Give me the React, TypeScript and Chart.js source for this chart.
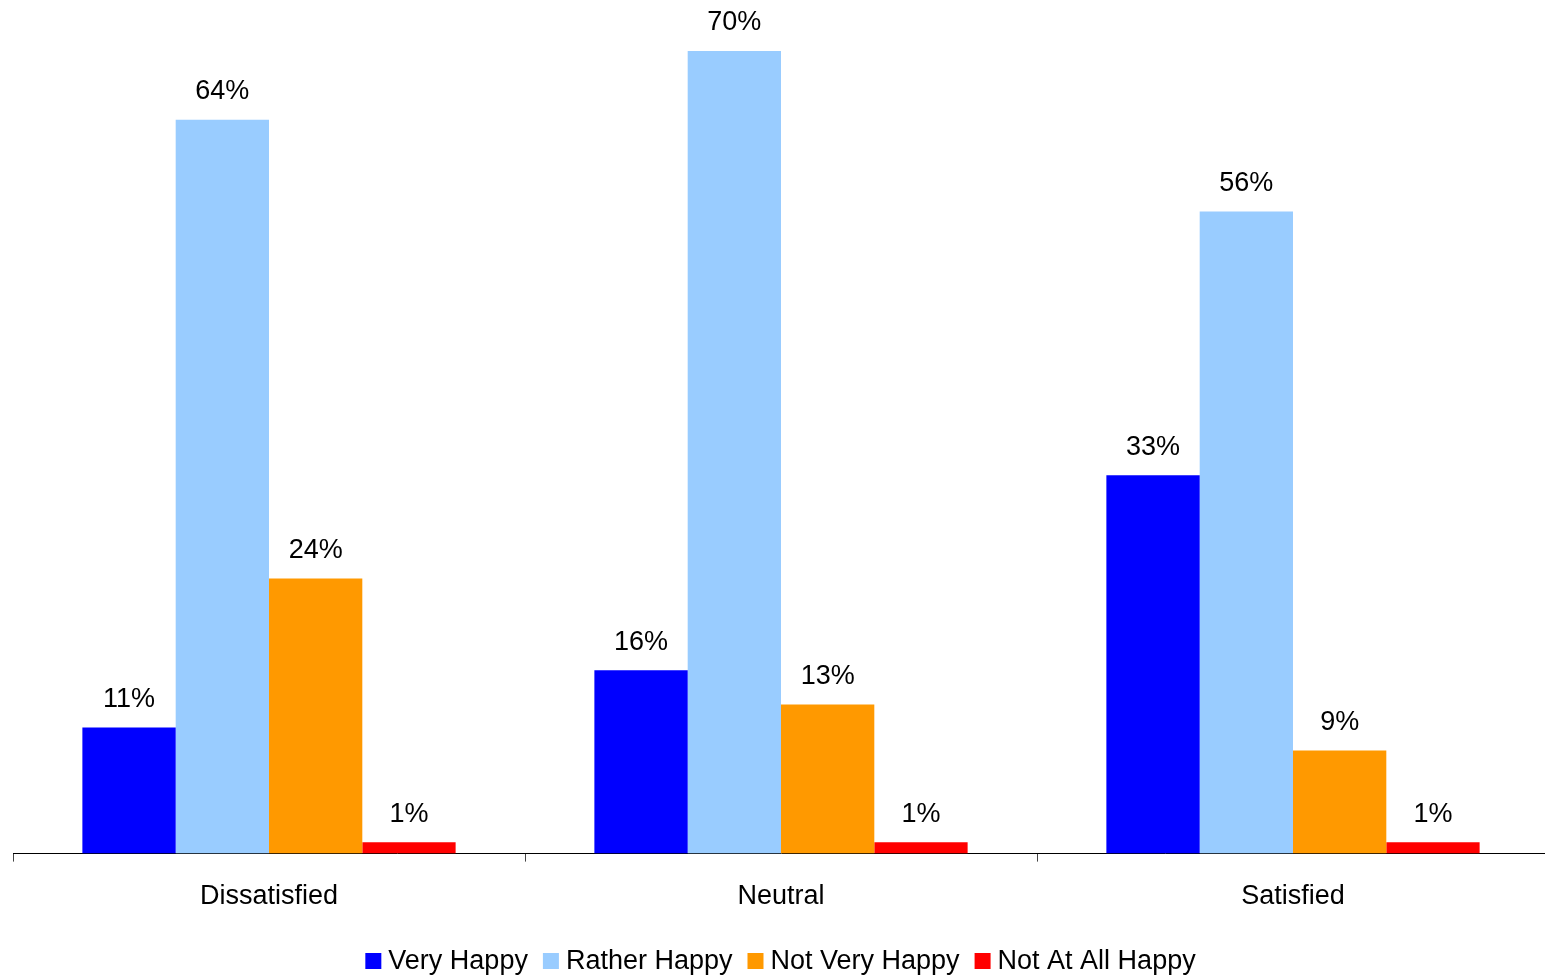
import React, { useEffect, useRef } from "react";
import { Chart, registerables } from "chart.js";

Chart.register(...registerables);

const categories = ["Dissatisfied", "Neutral", "Satisfied"];
const seriesNames = ["Very Happy", "Rather Happy", "Not Very Happy", "Not At All Happy"];
const veryHappy = [11, 16, 33];
const ratherHappy = [64, 70, 56];
const notVeryHappy = [24, 13, 9];
const notAtAllHappy = [1, 1, 1];
const seriesColors = ["#0000FF", "#99CCFF", "#FF9900", "#FF0000"];

const FONT = "'Liberation Sans', Arial, Helvetica, sans-serif";
const FS = 27;

const valueLabels = {
  id: "valueLabels",
  afterDatasetsDraw(chart: any) {
    const ctx = chart.ctx;
    ctx.save();
    ctx.font = `${FS}px ${FONT}`;
    ctx.fillStyle = "#000";
    ctx.textAlign = "center";
    ctx.textBaseline = "middle";
    chart.data.datasets.forEach((ds: any, i: number) => {
      const meta = chart.getDatasetMeta(i);
      meta.data.forEach((bar: any, j: number) => {
        ctx.fillText(`${ds.data[j]}%`, bar.x, bar.y - 28);
      });
    });
    ctx.restore();
  },
};

const customLegend = {
  id: "customLegend",
  afterDraw(chart: any) {
    const ctx = chart.ctx;
    ctx.save();
    ctx.font = `${FS}px ${FONT}`;
    ctx.textBaseline = "middle";
    ctx.textAlign = "left";
    const box = 16;
    const gapText = 7;
    const gapItem = 15;
    const items = chart.data.datasets.map((ds: any) => ({
      label: ds.label,
      color: ds.backgroundColor,
      w: ctx.measureText(ds.label).width,
    }));
    const total =
      items.reduce((s: number, it: any) => s + box + gapText + it.w, 0) +
      gapItem * (items.length - 1);
    let x = (chart.width - total) / 2 + 6;
    const cy = 961;
    items.forEach((it: any) => {
      ctx.fillStyle = it.color;
      ctx.fillRect(x, cy - box / 2, box, box);
      x += box + gapText;
      ctx.fillStyle = "#000";
      ctx.fillText(it.label, x, cy + 1);
      x += it.w + gapItem;
    });
    ctx.restore();
  },
};

export default function App() {
  const ref = useRef<HTMLCanvasElement>(null);
  useEffect(() => {
    if (!ref.current) return;
    const data = [veryHappy, ratherHappy, notVeryHappy, notAtAllHappy];
    const chart = new Chart(ref.current, {
      type: "bar",
      data: {
        labels: categories,
        datasets: seriesNames.map((name, i) => ({
          label: name,
          data: data[i],
          backgroundColor: seriesColors[i],
          borderWidth: 0,
          categoryPercentage: 0.729,
          barPercentage: 1,
        })),
      },
      options: {
        responsive: false,
        animation: false,
        layout: { padding: { top: 51, left: 13, right: 0, bottom: 45 } },
        plugins: {
          legend: { display: false },
          tooltip: { enabled: false },
        },
        scales: {
          x: {
            border: { display: true, color: "#000", width: 1 },
            grid: {
              display: true,
              offset: true,
              drawOnChartArea: false,
              drawTicks: true,
              tickLength: 8,
              color: "#444",
            },
            ticks: {
              color: "#000",
              font: { family: FONT, size: FS },
              padding: 19,
            },
          },
          y: {
            display: false,
            min: 0,
            max: 70,
          },
        },
      },
      plugins: [valueLabels, customLegend],
    });
    return () => chart.destroy();
  }, []);
  return (
    <div style={{ position: "fixed", left: 0, top: 0, width: 1545, height: 977, overflow: "hidden", background: "#fff" }}>
      <canvas ref={ref} width={1549} height={977} />
    </div>
  );
}
